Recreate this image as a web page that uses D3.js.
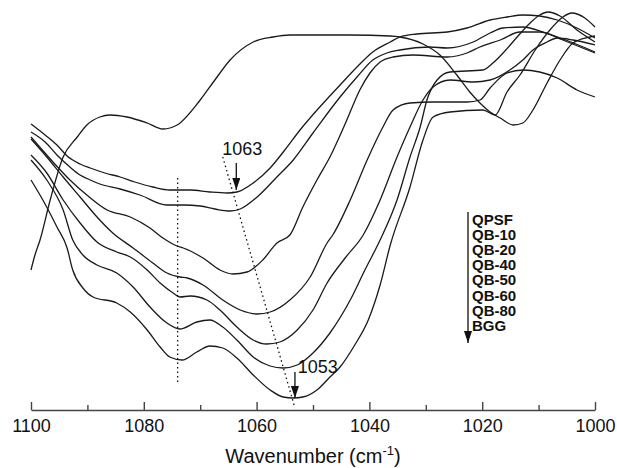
<!DOCTYPE html>
<html>
<head>
<meta charset="utf-8">
<script src="https://cdn.jsdelivr.net/npm/d3@7"></script>
<style>
  body { margin: 0; background: #fff; }
  svg text { font-family: Arial, "Liberation Sans", sans-serif; }
</style>
</head>
<body>
<svg id="chart" width="617" height="468"></svg>
<script>
// legend order, top to bottom
const labels = ["QPSF", "QB-10", "QB-20", "QB-40", "QB-50", "QB-60", "QB-80", "BGG"];

// spectra: [wavenumber, intensity (a.u.)]
const qpsf = [[1100,14.0],[1099.3,15.5],[1098.4,17.0],[1096.6,21.0],[1094.3,25.3],[1091.8,27.3],[1090.1,28.5],[1087.8,29.3],[1086.0,29.5],[1083.0,29.3],[1079.4,28.7],[1076.6,28.1],[1074.1,28.5],[1070.0,31.0],[1067.4,33.0],[1064.7,35.0],[1060.6,36.8],[1057.1,37.3],[1054.1,37.5],[1050.5,37.5],[1043.4,37.5],[1036.3,37.4],[1034.6,37.3],[1030.5,36.6],[1027.5,35.5],[1024.5,33.5],[1022.2,31.8],[1020.4,30.7],[1018.6,29.8],[1016.8,29.2],[1014.5,28.5],[1012.8,28.7],[1011.0,30.0],[1008.5,32.7],[1006.2,35.0],[1003.9,36.7],[1000.9,37.3],[1000,37.4]];
const qb10 = [[1100,28.6],[1097.5,27.5],[1095.4,26.5],[1093.6,25.4],[1091.3,24.6],[1089.5,24.2],[1086.9,23.7],[1084.2,23.3],[1081.6,22.8],[1078.4,22.3],[1075.4,22.0],[1071.8,22.0],[1068.3,21.8],[1065.2,21.7],[1063.5,21.8],[1060.6,22.7],[1057.6,24.2],[1055.0,26.0],[1052.3,28.0],[1048.8,30.3],[1045.2,32.5],[1042.2,34.3],[1039.4,35.8],[1036.3,36.8],[1034.6,37.3],[1031.6,37.6],[1026.2,37.8],[1022.7,38.2],[1018.6,39.0],[1015.6,39.3],[1012.8,39.5],[1009.8,39.4],[1006.7,39.0],[1003.2,38.2],[1000,37.2]];
const qb20 = [[1100,27.8],[1097.5,26.8],[1095.4,25.5],[1093.1,24.3],[1091.3,23.5],[1089.5,23.0],[1087.8,22.6],[1084.2,22.1],[1080.7,21.5],[1075.9,20.5],[1073.0,20.5],[1070.0,20.4],[1067.4,20.1],[1064.7,19.9],[1062.9,20.1],[1059.9,21.3],[1056.4,23.3],[1053.5,25.0],[1050.0,27.7],[1045.2,31.3],[1042.2,33.3],[1039.4,35.0],[1036.9,35.7],[1034.6,36.0],[1029.3,36.3],[1026.2,36.2],[1021.6,36.8],[1018.6,37.7],[1016.3,38.2],[1012.8,38.3],[1009.2,37.8],[1005.7,37.0],[1000,35.7]];
const qb40 = [[1100,27.3],[1096.1,24.8],[1093.1,23.0],[1090.1,21.5],[1086.5,20.0],[1082.4,19.3],[1078.9,18.2],[1076.6,17.2],[1074.1,16.4],[1073.0,16.2],[1069.5,15.2],[1066.5,14.0],[1064.2,13.6],[1061.7,13.8],[1058.9,15.0],[1056.4,16.7],[1054.1,17.5],[1051.8,20.3],[1049.3,23.0],[1047.0,25.3],[1044.0,29.0],[1041.7,32.0],[1039.9,33.7],[1038.1,34.8],[1035.8,35.3],[1032.3,35.5],[1026.2,35.3],[1022.7,35.7],[1020.4,36.3],[1016.8,37.0],[1013.3,37.8],[1009.8,37.8],[1006.2,37.2],[1000,35.8]];
const qb50 = [[1100,27.1],[1097.2,25.3],[1094.3,23.3],[1091.3,21.3],[1088.3,19.3],[1085.5,17.7],[1081.9,16.2],[1078.4,14.7],[1075.9,13.7],[1073.6,13.3],[1072.3,13.2],[1069.5,12.5],[1066.0,11.0],[1062.9,10.0],[1059.9,9.6],[1057.6,9.8],[1054.1,11.0],[1050.5,13.3],[1047.5,16.7],[1046.5,17.5],[1043.4,21.0],[1040.4,25.0],[1037.6,28.3],[1035.8,30.0],[1032.8,30.7],[1028.7,30.8],[1022.7,30.8],[1020.4,31.0],[1018.6,32.2],[1015.6,33.7],[1012.8,34.0],[1009.8,33.8],[1006.7,33.2],[1003.2,32.0],[1000,31.3]];
const qb60 = [[1100,25.5],[1097.2,23.7],[1094.3,21.0],[1091.3,18.7],[1088.3,16.8],[1084.8,15.8],[1082.4,15.3],[1079.4,14.0],[1077.1,12.7],[1074.8,11.7],[1073.6,11.3],[1071.8,11.4],[1068.8,11.0],[1066.5,10.0],[1063.5,8.3],[1060.6,7.0],[1058.2,6.6],[1055.9,6.8],[1052.8,8.0],[1050.0,10.0],[1047.5,12.7],[1044.3,15.2],[1041.1,17.5],[1038.1,21.0],[1035.1,25.3],[1032.8,28.3],[1030.5,31.0],[1028.7,32.3],[1025.7,33.0],[1021.6,32.8],[1018.6,33.0],[1015.1,34.0],[1012.8,35.0],[1011.0,36.0],[1008.5,36.8],[1006.7,37.2],[1003.9,37.0],[1000,36.5]];
const qb80 = [[1100,25.0],[1097.2,23.0],[1094.3,20.0],[1092.6,17.0],[1090.8,15.5],[1088.3,14.5],[1084.8,13.7],[1081.9,12.3],[1078.9,10.3],[1075.9,8.7],[1073.6,8.1],[1070.6,8.8],[1068.3,9.0],[1066.0,8.3],[1063.5,7.0],[1060.6,5.3],[1057.6,4.4],[1055.3,4.2],[1052.8,4.5],[1050.0,5.7],[1047.0,7.7],[1043.4,11.0],[1040.8,14.0],[1038.1,17.0],[1035.1,21.0],[1032.8,25.3],[1031.0,28.3],[1029.8,31.0],[1028.0,33.0],[1025.7,33.8],[1019.9,34.0],[1018.1,34.7],[1016.3,35.7],[1013.8,37.3],[1011.5,38.7],[1009.8,39.5],[1008.3,39.8],[1006.2,39.4],[1003.2,38.0],[1000,36.8]];
const bgg = [[1100,23.0],[1097.9,21.0],[1095.4,18.3],[1093.6,16.2],[1092.6,14.0],[1090.8,12.2],[1089.0,11.3],[1084.8,10.7],[1082.4,9.8],[1079.4,8.0],[1077.1,6.3],[1075.4,5.3],[1073.2,5.0],[1070.6,5.8],[1068.3,6.4],[1066.0,6.2],[1063.5,5.2],[1060.6,3.5],[1057.6,2.0],[1055.3,1.3],[1053.5,1.2],[1051.8,1.3],[1049.3,2.0],[1047.0,3.3],[1045.2,4.3],[1042.6,6.5],[1040.2,9.0],[1038.1,12.5],[1036.3,16.5],[1032.8,22.3],[1030.5,27.0],[1028.7,29.3],[1025.7,29.8],[1019.9,30.0],[1017.7,29.5],[1015.6,31.8],[1013.3,33.5],[1010.6,36.0],[1008.0,38.0],[1005.7,39.3],[1004.1,39.7],[1001.8,39.2],[1000,38.3]];

const spectra = [qpsf, qb10, qb20, qb40, qb50, qb60, qb80, bgg];

const majorTicks = [1100, 1080, 1060, 1040, 1020, 1000];
const minorTicks = [1090, 1070, 1050, 1030, 1010];

const svg = d3.select("#chart");

const x = d3.scaleLinear().domain([1100, 1000]).range([31, 595]);
const y = d3.scaleLinear().domain([0, 40]).range([410, 10]);

// arrow heads
const defs = svg.append("defs");
defs.append("marker")
  .attr("id", "head")
  .attr("viewBox", "0 0 12 8")
  .attr("refX", 12).attr("refY", 4)
  .attr("markerWidth", 12).attr("markerHeight", 8)
  .attr("markerUnits", "userSpaceOnUse")
  .attr("orient", "auto")
  .append("path")
  .attr("d", "M0,0L12,4L0,8z")
  .attr("fill", "#111");

// curves
const line = d3.line()
  .x(d => x(d[0]))
  .y(d => y(d[1]))
  .curve(d3.curveMonotoneX);

svg.append("g")
  .selectAll("path")
  .data(spectra)
  .join("path")
  .attr("d", line)
  .attr("fill", "none")
  .attr("stroke", "#1a1a1a")
  .attr("stroke-width", 1.3);

// x axis, ticks pointing inward
const axis = svg.append("g")
  .attr("transform", "translate(0,410)")
  .call(d3.axisBottom(x)
    .tickValues(majorTicks)
    .tickSize(-8)
    .tickSizeOuter(0)
    .tickPadding(9)
    .tickFormat(d3.format("d")));
axis.select(".domain").attr("stroke", "#444").attr("stroke-width", 1.6);
axis.selectAll(".tick line").attr("stroke", "#444").attr("stroke-width", 1.4);
axis.selectAll(".tick text")
  .attr("font-size", 18)
  .attr("font-family", "Arial, 'Liberation Sans', sans-serif")
  .attr("fill", "#111");

const minor = svg.append("g")
  .attr("transform", "translate(0,410)")
  .call(d3.axisBottom(x).tickValues(minorTicks).tickSize(-5).tickFormat(""));
minor.select(".domain").remove();
minor.selectAll(".tick line").attr("stroke", "#444").attr("stroke-width", 1.4);

// axis title
const title = svg.append("text")
  .attr("x", 313).attr("y", 463)
  .attr("text-anchor", "middle")
  .attr("font-size", 20)
  .attr("fill", "#111");
title.append("tspan").text("Wavenumber (cm");
title.append("tspan").attr("dy", -8).attr("font-size", 13).text("-1");
title.append("tspan").attr("dy", 8).text(")");

// guide lines
svg.append("line")
  .attr("x1", x(1074)).attr("x2", x(1074))
  .attr("y1", y(23.2)).attr("y2", y(2.7))
  .attr("stroke", "#111").attr("stroke-width", 1.3)
  .attr("stroke-dasharray", "1.5,3");

svg.append("line")
  .attr("x1", x(1066)).attr("y1", y(25.3))
  .attr("x2", x(1053.2)).attr("y2", y(0.2))
  .attr("stroke", "#111").attr("stroke-width", 1.3)
  .attr("stroke-dasharray", "1.5,3");

// peak annotations
svg.append("text")
  .attr("x", x(1066.1)).attr("y", y(25.5))
  .attr("font-size", 18).attr("fill", "#111")
  .text("1063");
svg.append("line")
  .attr("x1", x(1063.6)).attr("x2", x(1063.6))
  .attr("y1", y(24.7)).attr("y2", y(22.0))
  .attr("stroke", "#111").attr("stroke-width", 1.3)
  .attr("marker-end", "url(#head)");

svg.append("text")
  .attr("x", x(1052.7)).attr("y", y(3.7))
  .attr("font-size", 18).attr("fill", "#111")
  .text("1053");
svg.append("line")
  .attr("x1", x(1053.2)).attr("x2", x(1053.2))
  .attr("y1", y(3.8)).attr("y2", y(1.2))
  .attr("stroke", "#111").attr("stroke-width", 1.3)
  .attr("marker-end", "url(#head)");

// legend with downward arrow
const legend = svg.append("g").attr("transform", "translate(468,212)");
legend.append("line")
  .attr("x1", 0).attr("x2", 0)
  .attr("y1", 0).attr("y2", 131)
  .attr("stroke", "#111").attr("stroke-width", 1.3)
  .attr("marker-end", "url(#head)");
legend.selectAll("text")
  .data(labels)
  .join("text")
  .attr("x", 4)
  .attr("y", (d, i) => 13 + i * 15.1)
  .attr("font-size", 15)
  .attr("font-weight", "bold")
  .attr("fill", "#111")
  .text(d => d);
</script>
</body>
</html>
